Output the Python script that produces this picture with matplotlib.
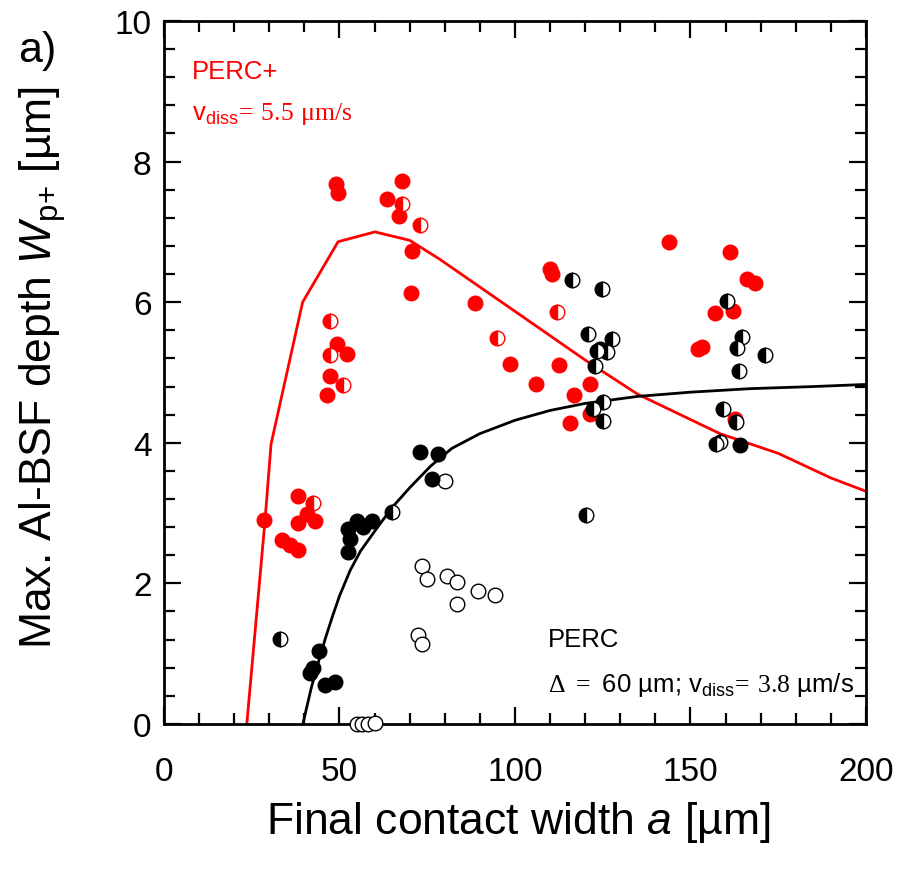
import matplotlib
matplotlib.use("Agg")
import matplotlib.pyplot as plt
from matplotlib.ticker import MultipleLocator

plt.rcParams['font.family'] = 'Liberation Sans'
plt.rcParams['mathtext.fontset'] = 'custom'
plt.rcParams['mathtext.rm'] = 'Liberation Serif'
plt.rcParams['mathtext.it'] = 'Liberation Sans:italic'
plt.rcParams['mathtext.sf'] = 'Liberation Sans'
plt.rcParams['mathtext.bf'] = 'Liberation Sans:bold'

# PERC+ measurements (red)
red_full_x = [28.5, 33.6, 35.9, 38.2, 38.2, 40.7, 38.2, 43.0,
              49.3, 52.1, 47.3, 46.4,
              49.0, 49.6, 67.8, 63.5, 67.0, 70.7, 70.4,
              110.0, 110.5, 88.6, 98.6, 112.5, 106.0, 121.4, 116.8, 121.4, 115.7,
              143.9, 161.3, 166.1, 168.4, 157.0, 162.1, 153.3, 152.1, 162.7]
red_full_y = [2.90, 2.62, 2.55, 2.47, 3.24, 2.99, 2.86, 2.89,
              5.41, 5.26, 4.95, 4.68,
              7.68, 7.55, 7.72, 7.47, 7.23, 6.73, 6.13,
              6.47, 6.40, 5.99, 5.12, 5.11, 4.84, 4.84, 4.68, 4.41, 4.28,
              6.86, 6.71, 6.33, 6.27, 5.85, 5.88, 5.36, 5.33, 4.34]
red_half_x = [42.5, 47.3, 47.3, 51.0, 67.8, 72.9, 112.0, 94.9]
red_half_y = [3.14, 5.73, 5.25, 4.82, 7.40, 7.10, 5.86, 5.49]

# PERC measurements (black)
blk_full_x = [72.9, 78.1, 76.4, 55.0, 59.3, 52.4, 56.7, 53.0, 52.4,
              44.2, 42.5, 41.6, 48.7, 45.9, 124.2, 164.1]
blk_full_y = [3.87, 3.84, 3.49, 2.89, 2.89, 2.77, 2.80, 2.63, 2.45,
              1.04, 0.80, 0.72, 0.60, 0.55, 5.33, 3.97]
blk_half_x = [33.0, 65.0, 116.2, 124.8, 120.8, 127.6, 123.4, 126.2, 122.8,
              125.1, 122.2, 125.1, 120.2, 160.4, 164.7, 163.2, 171.2, 163.8,
              159.3, 163.0, 158.4, 157.3]
blk_half_y = [1.21, 3.01, 6.32, 6.19, 5.55, 5.48, 5.31, 5.29, 5.09,
              4.58, 4.48, 4.31, 2.97, 6.02, 5.51, 5.35, 5.25, 5.02,
              4.48, 4.30, 4.01, 3.98]
blk_open_x = [80.1, 73.5, 74.9, 80.6, 83.5, 89.5, 94.3, 83.5, 72.4, 73.5,
              55.0, 56.5, 58.0, 60.1]
blk_open_y = [3.46, 2.25, 2.06, 2.10, 2.02, 1.89, 1.84, 1.71, 1.27, 1.14,
              0.0, 0.0, 0.0, 0.02]

# model curves
red_model_x = [23.6, 28.8, 30.5, 39.5, 49.6, 60.1, 70.0, 78.6, 100.0, 120.5,
               135.0, 158.4, 175.0, 190.0, 200.0]
red_model_y = [0.0, 2.90, 3.98, 6.00, 6.86, 7.00, 6.88, 6.61, 5.87, 5.16,
               4.69, 4.13, 3.85, 3.50, 3.31]
blk_model_x = [39.6, 40.5, 42.0, 44.0, 46.0, 48.0, 50.0, 53.0, 56.0, 60.0,
               65.0, 70.0, 76.0, 82.0, 90.0, 100.0, 110.0, 120.0, 135.0,
               150.0, 167.0, 185.0, 200.0]
blk_model_y = [0.0, 0.20, 0.52, 0.88, 1.22, 1.53, 1.82, 2.18, 2.46, 2.74,
               3.08, 3.36, 3.67, 3.92, 4.13, 4.32, 4.46, 4.56, 4.66,
               4.72, 4.77, 4.80, 4.83]

RED = '#ff0000'
ms = 10.5

fig = plt.figure(figsize=(8.97, 8.70), dpi=100)
ax = fig.add_axes([0.1828, 0.1667, 0.7826, 0.808])

ax.plot(red_model_x, red_model_y, color=RED, lw=2.0, zorder=2)
ax.plot(blk_model_x, blk_model_y, color='black', lw=2.0, zorder=2)

ax.plot(red_full_x, red_full_y, 'o', ms=ms, color=RED, mec=RED, mew=1.0,
        zorder=3, clip_on=False)
ax.plot(red_half_x, red_half_y, 'o', ms=ms, color=RED, mec=RED, mew=1.0,
        fillstyle='left', markerfacecoloralt='white', zorder=3, clip_on=False)
ax.plot(blk_open_x, blk_open_y, 'o', ms=ms, mfc='white', mec='black',
        mew=1.0, zorder=4, clip_on=False)
ax.plot(blk_full_x, blk_full_y, 'o', ms=ms, color='black', mec='black',
        mew=1.0, zorder=4, clip_on=False)
ax.plot(blk_half_x, blk_half_y, 'o', ms=ms, color='black', mec='black',
        mew=1.0, fillstyle='left', markerfacecoloralt='white', zorder=4,
        clip_on=False)

ax.set_xlim(0, 200)
ax.set_ylim(0, 10)
ax.xaxis.set_major_locator(MultipleLocator(50))
ax.xaxis.set_minor_locator(MultipleLocator(10))
ax.yaxis.set_major_locator(MultipleLocator(2))
ax.yaxis.set_minor_locator(MultipleLocator(0.4))

for s in ax.spines.values():
    s.set_linewidth(2.0)
ax.tick_params(which='both', direction='in', top=True, right=True, width=1.6)
ax.tick_params(which='major', length=12)
ax.tick_params(which='minor', length=8)
ax.tick_params(axis='x', which='major', labelsize=24, pad=23)
ax.tick_params(axis='y', which='major', labelsize=24, pad=9)

# annotations
ax.text(8.0, 9.19, 'PERC+', color=RED, fontsize=18.5, va='baseline')
ax.text(8.0, 8.61, r'v$_{\mathsf{diss}}\!\mathrm{=}\!\ \mathrm{5.5\ \mu m/s}$',
        color=RED, fontsize=18.5, va='baseline')
ax.text(109.4, 1.11, 'PERC', color='black', fontsize=18.5, va='baseline')
ax.text(109.4, 0.47,
        r'$\mathrm{\Delta\ =}$ 60 µm; v$_{\mathsf{diss}}\!\mathrm{=}\!\ \mathrm{3.8}$ µm/s',
        color='black', fontsize=18.5, va='baseline')

fig.text(0.020, 0.9287, 'a)', fontsize=31, va='baseline')
fig.text(0.047, 0.578, r'Max. Al-BSF depth $W_{\mathsf{p{+}}}$ [µm]',
         rotation=90, fontsize=32, ha='center', va='center')
fig.text(0.5775, 0.055, r'Final contact width $a$ [µm]',
         fontsize=32, ha='center', va='center')

fig.savefig('out.png', dpi=100)
